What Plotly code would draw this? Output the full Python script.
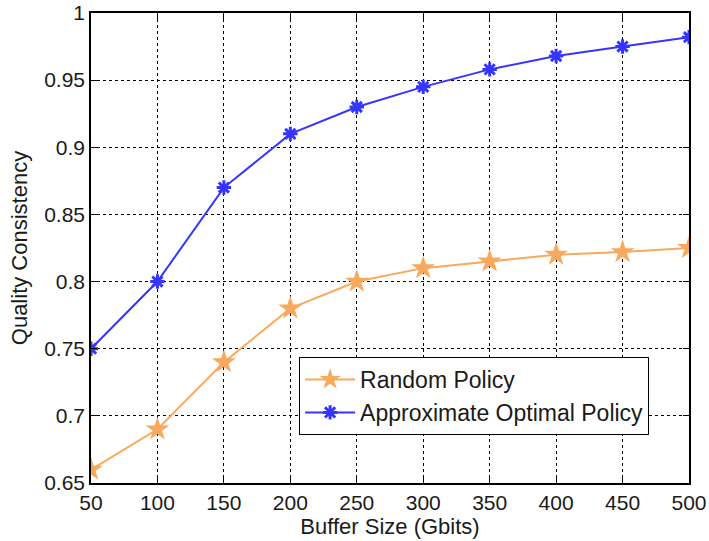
import plotly.graph_objects as go

buffer_size = [50, 100, 150, 200, 250, 300, 350, 400, 450, 500]
random_policy = [0.66, 0.69, 0.74, 0.78, 0.80, 0.81, 0.815, 0.82, 0.822, 0.825]
optimal_policy = [0.75, 0.80, 0.87, 0.91, 0.93, 0.945, 0.958, 0.968, 0.975, 0.982]
y_ticks = [0.65, 0.7, 0.75, 0.8, 0.85, 0.9, 0.95, 1.0]
y_tick_labels = ["0.65", "0.7", "0.75", "0.8", "0.85", "0.9", "0.95", "1"]

FONT = "Liberation Sans, Arial"

fig = go.Figure()
fig.add_trace(go.Scatter(
    x=buffer_size, y=random_policy, mode="lines+markers", name="Random Policy",
    line=dict(color="#F7A95E", width=2),
    marker=dict(symbol="star", size=18, color="#F7A95E", line=dict(width=0)),
))
fig.add_trace(go.Scatter(
    x=buffer_size, y=optimal_policy, mode="lines+markers", name="Approximate Optimal Policy",
    line=dict(color="#3535FF", width=2),
    marker=dict(symbol="asterisk-open", size=12, color="#3535FF", line=dict(width=3, color="#3535FF")),
))

axis_common = dict(
    showline=True, linecolor="black", linewidth=1.5, mirror="ticks",
    ticks="inside", ticklen=6, tickcolor="black",
    showgrid=True, gridcolor="black", griddash="dot", gridwidth=1,
    zeroline=False, automargin=False,
    tickfont=dict(family=FONT, size=21, color="#1a1a1a"),
)
fig.update_xaxes(range=[50, 500], tickvals=buffer_size,
                 title=dict(text="Buffer Size (Gbits)", font=dict(family=FONT, size=22, color="#1a1a1a"), standoff=0),
                 **axis_common)
fig.update_yaxes(range=[0.65, 1.0], tickvals=y_ticks, ticktext=y_tick_labels,
                 title=dict(text="Quality Consistency", font=dict(family=FONT, size=22, color="#1a1a1a"), standoff=10),
                 **axis_common)

fig.update_layout(
    width=709, height=541,
    margin=dict(l=91, r=20, t=13, b=58),
    plot_bgcolor="white", paper_bgcolor="white",
    legend=dict(x=0.348, y=0.268, xanchor="left", yanchor="top",
                bordercolor="black", borderwidth=1, bgcolor="white",
                font=dict(family=FONT, size=23, color="#1a1a1a"),
                tracegroupgap=0, itemwidth=50),
    showlegend=True,
)
fig.write_html("out.html")
